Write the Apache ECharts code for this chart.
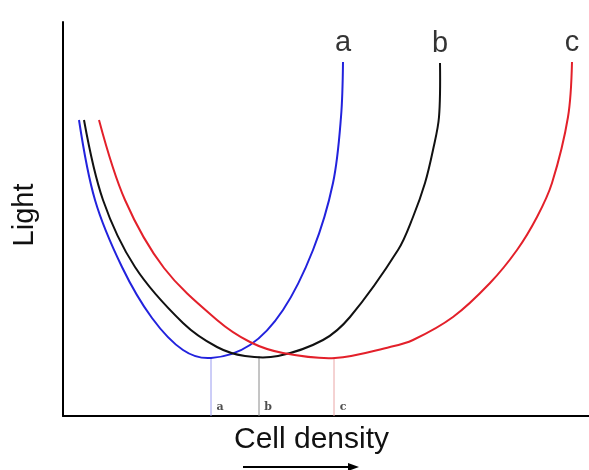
<!DOCTYPE html>
<html>
<head>
<meta charset="utf-8">
<script src="https://cdn.jsdelivr.net/npm/echarts@6/dist/echarts.min.js"></script>
<style>
  * { margin: 0; padding: 0; }
  body { background: #fff; }
  #main { width: 589px; height: 470px; }
</style>
</head>
<body>
<div id="main"></div>
<script type="text/javascript">
// curve points: [cell density, light]
var curveA = [[16,296],[32,216],[59,149],[89,98],[120,66],[148,58],[187,71],[220,106],[250,166],[270,233],[278,299],[280,354]];
var curveB = [[21,296],[40,216],[72,149],[120,93],[154,69],[182,60],[215,60],[260,76],[287,99],[335,166],[350,199],[362,233],[370,266],[376,299],[377,353]];
var curveC = [[36,296],[62,216],[101,148],[154,96],[187,74],[220,63],[272,58],[327,69],[350,76],[390,99],[427,133],[454,166],[474,199],[489,233],[505,299],[509,354]];
var curveNames = ['a', 'b', 'c'];
var curveColors = ['#2222dd', '#111111', '#e3202a'];
var markerColors = ['#9a9cf0', '#8a8a8a', '#eaa6a6'];
// optimum densities (minimum of each curve)
var optX = [148, 196, 271];
var optY = [58, 60, 57];

var curves = [curveA, curveB, curveC];
var series = [];

curves.forEach(function (pts, i) {
    // whole curve as one smooth path, points mapped through the axes
    series.push({
        type: 'custom',
        data: [[pts[0][0], pts[0][1]]],
        clip: false,
        renderItem: function (params, api) {
            var points = pts.map(function (p) { return api.coord(p); });
            return {
                type: 'polyline',
                shape: { points: points, smooth: 0.35 },
                style: { stroke: curveColors[i], lineWidth: 2, fill: null }
            };
        },
        z: 3
    });
    // drop line from the minimum to the axis
    series.push({
        type: 'line',
        data: [[optX[i], 0], [optX[i], optY[i]]],
        symbol: 'none',
        lineStyle: { color: markerColors[i], width: 1 },
        z: 2
    });
    // small label near the axis
    series.push({
        type: 'scatter',
        data: [[optX[i] + 9, 9]],
        symbolSize: 0,
        label: {
            show: true, position: 'inside', formatter: curveNames[i],
            color: '#222', fontSize: 11, fontWeight: 'bold', fontFamily: 'DejaVu Serif, serif'
        },
        z: 4
    });
    // curve name above the end of the curve
    series.push({
        type: 'scatter',
        data: [pts[pts.length - 1]],
        symbolSize: 1,
        itemStyle: { color: 'rgba(0,0,0,0)' },
        label: {
            show: true, position: 'top', distance: 4, formatter: curveNames[i],
            color: '#000', fontSize: 29, fontFamily: 'Liberation Sans, Arial'
        },
        z: 4
    });
});

var myChart = echarts.init(document.getElementById('main'));
var option = {
    backgroundColor: '#fff',
    animation: false,
    grid: { left: 63, right: 0, top: 22, bottom: 54 },
    xAxis: {
        type: 'value', min: 0, max: 526,
        name: 'Cell density', nameLocation: 'middle', nameGap: 9,
        nameTextStyle: { color: '#111', fontSize: 30, fontFamily: 'Liberation Sans, Arial', padding: [0, 29, 0, 0] },
        axisLine: { lineStyle: { color: '#000', width: 2 } },
        axisTick: { show: false }, axisLabel: { show: false }, splitLine: { show: false }
    },
    yAxis: {
        type: 'value', min: 0, max: 394,
        name: 'Light', nameLocation: 'middle', nameGap: 24, nameRotate: 90,
        nameTextStyle: { color: '#111', fontSize: 29, fontFamily: 'Liberation Sans, Arial', padding: [0, 0, 0, 8] },
        axisLine: { show: true, lineStyle: { color: '#000', width: 2 } },
        axisTick: { show: false }, axisLabel: { show: false }, splitLine: { show: false }
    },
    graphic: [
        { type: 'line', shape: { x1: 243, y1: 467, x2: 350, y2: 467 }, style: { stroke: '#000', lineWidth: 2 } },
        { type: 'polygon', shape: { points: [[348, 463], [359, 467], [348, 471]] }, style: { fill: '#000' } }
    ],
    series: series
};
myChart.setOption(option);
</script>
</body>
</html>
